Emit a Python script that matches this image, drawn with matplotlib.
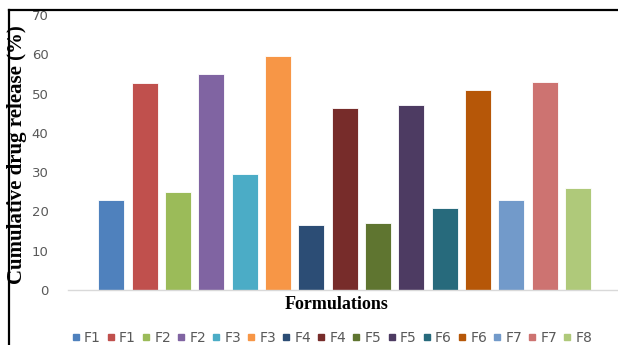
import numpy as np
import matplotlib.pyplot as plt
from matplotlib.lines import Line2D

# formulation labels and release values (%)
labels = ['F1', 'F1', 'F2', 'F2', 'F3', 'F3', 'F4', 'F4',
          'F5', 'F5', 'F6', 'F6', 'F7', 'F7', 'F8']
release = [23, 52.7, 25, 55, 29.6, 59.6, 16.5, 46.4,
           17.1, 47, 21, 51, 23, 53, 26]
colors = ['#4F81BD', '#C0504D', '#9BBB59', '#8064A2', '#4BACC6', '#F79646',
          '#2C4D75', '#772C2A', '#5F7530', '#4D3B62', '#276A7C', '#B65708',
          '#729ACA', '#CD7371', '#AFC97A']
yticks = [0, 10, 20, 30, 40, 50, 60, 70]

fig = plt.figure(figsize=(6.18, 3.45), dpi=100)
ax = fig.add_axes([0.110, 0.1594, 0.89, 0.7971])

x = np.arange(len(release))
bars = ax.bar(x, release, width=0.78, color=colors,
              edgecolor='white', linewidth=0.6, zorder=2)

ax.set_xlim(-1.3, 15.2)
ax.set_ylim(0, 70)
ax.set_yticks(yticks)
ax.set_xticks([])
ax.tick_params(axis='y', length=0, colors='#595959', labelsize=9.5, pad=14)
for s in ['top', 'right', 'left']:
    ax.spines[s].set_visible(False)
ax.spines['bottom'].set_color('#D9D9D9')
ax.spines['bottom'].set_linewidth(1)

fig.text(0.028, 0.551, 'Cumulative drug release (%)', rotation=90,
         ha='center', va='center', family='Liberation Serif',
         fontweight='bold', fontsize=15)
fig.text(0.544, 0.118, 'Formulations', ha='center', va='center',
         family='Liberation Serif', fontweight='bold', fontsize=13)

handles = [Line2D([], [], marker='s', linestyle='none', markersize=4.5,
                  markerfacecolor=c, markeredgecolor=c) for c in colors]
fig.legend(handles, labels, ncol=len(labels), loc='center',
           bbox_to_anchor=(0.537, 0.02), frameon=False, fontsize=10,
           labelcolor='#595959', handlelength=0.6, handletextpad=0.3,
           columnspacing=0.42, borderaxespad=0, borderpad=0)

# outer frame lines
fig.add_artist(Line2D([0.0146, 1.0], [0.971, 0.971], color='black', lw=1.6))
fig.add_artist(Line2D([0.0146, 0.0146], [0.0, 0.971], color='black', lw=1.6))

fig.savefig('out.png', dpi=100)
